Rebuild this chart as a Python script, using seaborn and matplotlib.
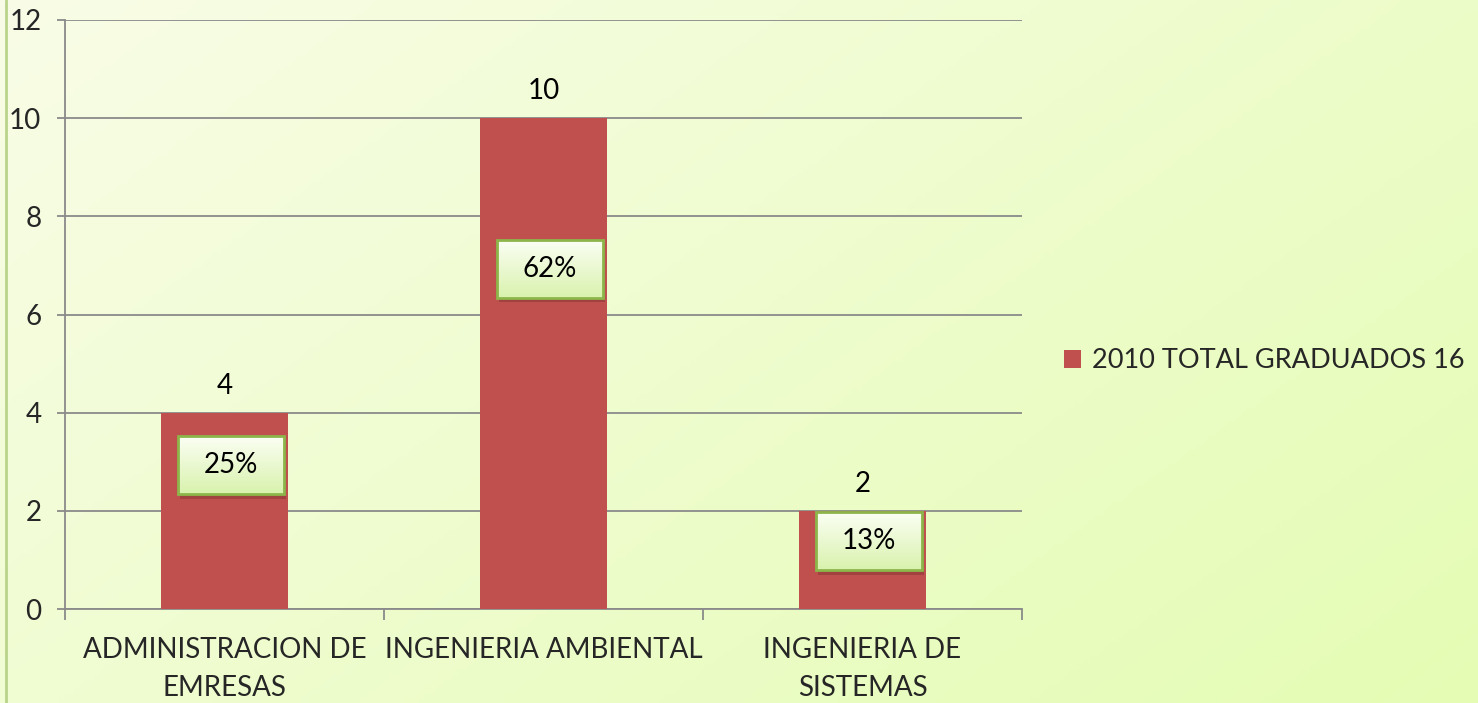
import numpy as np
import pandas as pd
import matplotlib
matplotlib.use("Agg")
import matplotlib.pyplot as plt
from matplotlib.patches import Rectangle, Patch
import seaborn as sns

# chart data
categories = ["ADMINISTRACION DE\nEMRESAS", "INGENIERIA AMBIENTAL", "INGENIERIA DE\nSISTEMAS"]
graduados = [4, 10, 2]
porcentajes = ["25%", "62%", "13%"]
serie = "2010 TOTAL GRADUADOS 16"
y_ticks = [0, 2, 4, 6, 8, 10, 12]

df = pd.DataFrame({"carrera": categories, "graduados": graduados})

sns.set_theme(style="white")
plt.rcParams["font.family"] = ["Lato", "DejaVu Sans"]

bar_color = "#c0504d"
grid_color = "#8a8a8a"
fsize = 20

fig = plt.figure(figsize=(14.78, 7.03), dpi=100)

# background gradient (cream top-left to light green bottom-right)
bg = fig.add_axes([0, 0, 1, 1], zorder=-10)
xx, yy = np.meshgrid(np.linspace(0, 1, 300), np.linspace(0, 1, 150))
t = np.clip((xx * 0.6 + yy * 0.4), 0, 1)
c0 = np.array([0.975, 0.992, 0.905])
c1 = np.array([0.895, 0.992, 0.705])
img = c0[None, None, :] * (1 - t[..., None]) + c1[None, None, :] * t[..., None]
bg.imshow(img, aspect="auto", extent=[0, 1, 0, 1], origin="upper")
bg.axvline(0.004, color="#b9d48a", lw=2)
bg.set_axis_off()

ax = fig.add_axes([65 / 1478, 94 / 703, 957 / 1478, 589 / 703])
ax.set_facecolor("none")
sns.barplot(data=df, x="carrera", y="graduados", color=bar_color,
            saturation=1, width=0.4, linewidth=0, ax=ax, zorder=3)

ax.set_ylim(0, 12)
ax.set_xlim(-0.5, 2.5)
ax.set_yticks(y_ticks)
ax.yaxis.grid(True, color=grid_color, lw=1.3, zorder=0)
ax.set_axisbelow(True)
for s in ["top", "right"]:
    ax.spines[s].set_visible(False)
for s in ["left", "bottom"]:
    ax.spines[s].set_color(grid_color)
    ax.spines[s].set_linewidth(1.3)
ax.tick_params(axis="y", length=6, width=1.3, color=grid_color,
               labelsize=fsize, pad=11, direction="out", left=True)
ax.set_xticks(range(len(categories)))
ax.set_xticklabels(categories, fontsize=fsize, linespacing=1.6)
ax.tick_params(axis="x", which="major", length=0, pad=20)
ax.set_xticks([-0.5, 0.5, 1.5, 2.5], minor=True)
ax.tick_params(axis="x", which="minor", length=8, width=1.3,
               color=grid_color, direction="out", bottom=True)
ax.set_xlabel("")
ax.set_ylabel("")

# value labels above bars
for i, v in enumerate(graduados):
    ax.annotate(str(v), (i, v), xytext=(0, 19.5), textcoords="offset points",
                ha="center", va="center", fontsize=fsize, color="black")

# percentage boxes inside bars
box_y = [2.93, 6.93, 1.38]
box_w, box_h = 0.332, 1.18
grad = np.linspace(0, 1, 50)[:, None]
for i, p in enumerate(porcentajes):
    x0 = i + 0.02 - box_w / 2
    y0 = box_y[i] - box_h / 2
    shadow = Rectangle((x0 + 0.008, y0 - 0.09), box_w, box_h,
                       facecolor="#6b2a28", alpha=0.35, lw=0, zorder=4)
    ax.add_patch(shadow)
    rect = Rectangle((x0, y0), box_w, box_h, facecolor="none",
                     edgecolor="#8cb64a", lw=2, zorder=6)
    ax.add_patch(rect)
    gimg = np.zeros((50, 1, 3))
    top_c = np.array([0.985, 0.998, 0.955])
    bot_c = np.array([0.85, 0.95, 0.68])
    gimg[:, 0, :] = top_c * (1 - grad) + bot_c * grad
    ax.imshow(gimg, extent=[x0, x0 + box_w, y0, y0 + box_h], aspect="auto",
              origin="upper", zorder=5)
    ax.text(i + 0.02, box_y[i], p, ha="center", va="center",
            fontsize=fsize, color="black", zorder=7)
ax.set_xlim(-0.5, 2.5)
ax.set_ylim(0, 12)

handle = Patch(facecolor=bar_color, edgecolor="none")
fig.legend([handle], [serie], loc="center left",
           bbox_to_anchor=(1064 / 1478, 1 - 361 / 703), frameon=False,
           fontsize=19.5, handlelength=0.62, handleheight=0.62,
           handletextpad=0.4, borderaxespad=0, borderpad=0)

fig.savefig("out.png", dpi=100)
